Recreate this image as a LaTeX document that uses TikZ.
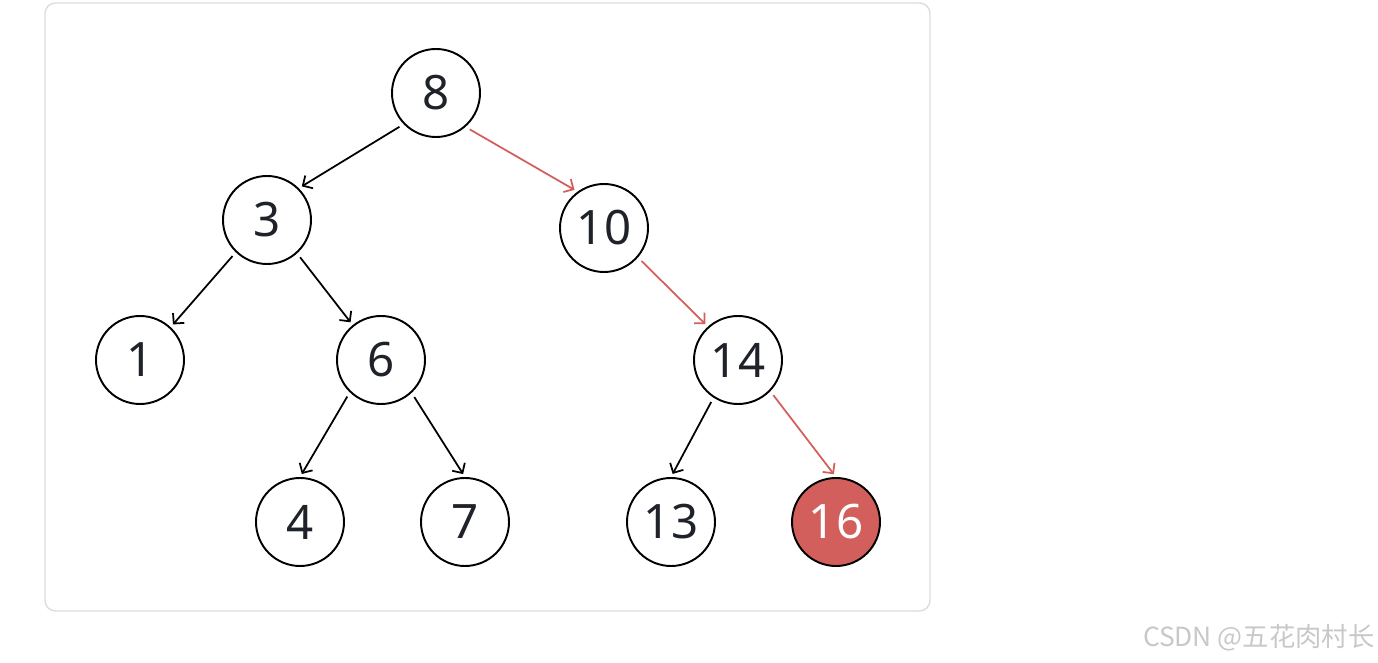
\documentclass[tikz,border=0pt]{standalone}
\usepackage{fontspec}
\setmainfont{Noto Sans}
\newfontfamily\cjk{Noto Sans CJK SC}
\usetikzlibrary{arrows.meta}
\definecolor{tinta}{HTML}{1F2329}
\definecolor{ruta}{HTML}{D35F5C}
\definecolor{marco}{HTML}{DCDCDC}
\definecolor{marca}{HTML}{C8C8C8}

\tikzset{
  nodo/.style={circle,draw=black,line width=1.1pt,minimum size=1.76cm,inner sep=0pt,
    text=tinta,font=\fontsize{27}{30}\selectfont},
  hijo/.style={-{Straight Barb[length=4.2pt,width=8.5pt]},line width=1pt,shorten <=2.8pt,shorten >=2pt},
  camino/.style={hijo,draw=ruta}
}

\begin{document}
\begin{tikzpicture}

\useasboundingbox (0,0) rectangle (27.56,-13.26);
\draw[marco,line width=0.8pt,rounded corners=6pt] (0.90,-0.06) rectangle (18.60,-12.22);

% arbol
\node[nodo] (n8) at (8.72,-1.86) {8};
\node[nodo] (n3) at (5.34,-4.40) {3};
\node[nodo] (n10) at (12.08,-4.56) {10};
\node[nodo] (n1) at (2.80,-7.20) {1};
\node[nodo] (n6) at (7.62,-7.20) {6};
\node[nodo] (n14) at (14.76,-7.20) {14};
\node[nodo] (n4) at (6.00,-10.44) {4};
\node[nodo] (n7) at (9.30,-10.44) {7};
\node[nodo] (n13) at (13.42,-10.44) {13};
\node[nodo,fill=ruta,text=white] (n16) at (16.72,-10.44) {16};

\draw[hijo] (n8.224) -- (n3.45);
\draw[hijo] (n3.226) -- (n1.47);
\draw[hijo] (n3.312) -- (n6.129);
\draw[hijo] (n6.226) -- (n4.north);
\draw[hijo] (n6.313) -- (n7.north);
\draw[hijo] (n14.237) -- (n13.north);
\draw[camino] (n8.311) -- (n10.126);
\draw[camino] (n10.319) -- (n14.132);
\draw[camino] (n14.316) -- (n16.north);

\node[anchor=east,text=marca,font=\cjk\fontsize{15}{17}\selectfont,inner sep=0pt] (wm) at (27.50,-12.76) {CSDN @五花肉村长};

\end{tikzpicture}
\end{document}
